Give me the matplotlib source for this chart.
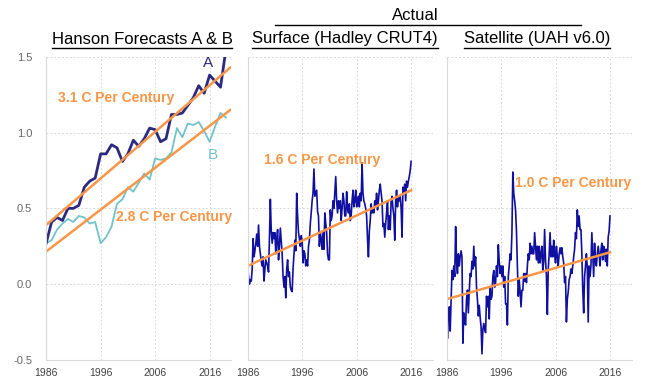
import numpy as np
import matplotlib
matplotlib.use("Agg")
import matplotlib.pyplot as plt
from matplotlib.lines import Line2D

plt.rcParams['font.family'] = ['Liberation Sans', 'DejaVu Sans']

# Hansen forecasts, annual values
hansen_years = np.arange(1986, 2020)
hansen_a = [0.27, 0.41, 0.44, 0.42, 0.50, 0.50, 0.52, 0.64, 0.68, 0.70,
            0.86, 0.86, 0.92, 0.90, 0.81, 0.86, 0.95, 0.91, 0.96, 1.03,
            1.02, 0.94, 0.96, 1.12, 1.12, 1.13, 1.18, 1.23, 1.31, 1.26,
            1.38, 1.34, 1.30, 1.55]
hansen_b = [0.27, 0.29, 0.36, 0.40, 0.43, 0.41, 0.45, 0.44, 0.40, 0.41,
            0.27, 0.31, 0.38, 0.53, 0.56, 0.64, 0.61, 0.67, 0.73, 0.69,
            0.83, 0.82, 0.83, 0.87, 1.03, 0.97, 1.06, 1.05, 1.07, 1.01,
            0.94, 1.04, 1.13, 1.10]

# trend lines: (start year, end year), (start value, end value)
a_trend_years = [1986, 2019.8]
a_trend_vals = [0.39, 1.43]
b_trend_years = [1986, 2019.8]
b_trend_vals = [0.215, 1.15]

# bi-monthly actuals, 1986.0 - 2016.0 (6 per year)
obs_years = 1986 + np.arange(181) / 6
surface = [0.12, 0.05, 0.00, 0.03, 0.02, 0.10,
           0.30, 0.18, 0.22, 0.27, 0.33, 0.25,
           0.39, 0.25, 0.20, 0.15, 0.12, 0.18,
           0.02, 0.10, 0.16, 0.14, 0.12, 0.08,
           0.30, 0.56, 0.35, 0.27, 0.34, 0.30,
           0.34, 0.20, 0.30, 0.36, 0.16, 0.25,
           0.37, 0.28, 0.20, 0.05, -0.02, 0.05,
           -0.09, 0.10, 0.16, 0.05, 0.08, -0.02,
           -0.04, -0.05, 0.10, 0.20, 0.29, 0.22,
           0.60, 0.45, 0.34, 0.30, 0.25, 0.32,
           0.29, 0.14, 0.22, 0.20, 0.12, 0.16,
           0.12, 0.25, 0.29, 0.40, 0.47, 0.55,
           0.60, 0.76, 0.58, 0.60, 0.62, 0.48,
           0.45, 0.25, 0.34, 0.30, 0.23, 0.34,
           0.23, 0.47, 0.40, 0.34, 0.20, 0.16,
           0.16, 0.49, 0.42, 0.45, 0.55, 0.50,
           0.60, 0.71, 0.55, 0.47, 0.55, 0.50,
           0.55, 0.42, 0.50, 0.60, 0.55, 0.45,
           0.45, 0.61, 0.50, 0.47, 0.53, 0.42,
           0.45, 0.55, 0.62, 0.51, 0.55, 0.62,
           0.51, 0.55, 0.58, 0.51, 0.60, 0.55,
           0.80, 0.60, 0.55, 0.53, 0.50, 0.45,
           0.30, 0.18, 0.35, 0.42, 0.53, 0.47,
           0.50, 0.47, 0.55, 0.52, 0.60, 0.49,
           0.55, 0.62, 0.66, 0.60, 0.55, 0.38,
           0.40, 0.31, 0.40, 0.47, 0.55, 0.36,
           0.45, 0.36, 0.55, 0.58, 0.50, 0.45,
           0.29, 0.55, 0.62, 0.51, 0.58, 0.55,
           0.58, 0.50, 0.31, 0.64, 0.60, 0.66,
           0.55, 0.68, 0.64, 0.68, 0.71, 0.75,
           0.81]
satellite = [-0.14, -0.36, -0.20, -0.15, -0.31, -0.10,
             0.09, 0.03, 0.12, 0.05, 0.38, 0.15,
             0.07, 0.20, 0.12, 0.18, 0.22, 0.18,
             -0.39, -0.19, -0.25, -0.27, -0.10, -0.04,
             -0.19, -0.05, 0.07, 0.05, 0.15, 0.10,
             0.25, 0.12, 0.18, -0.02, -0.10, -0.21,
             -0.14, -0.22, -0.28, -0.46, -0.30, -0.26,
             -0.30, -0.32, -0.08, -0.15, -0.08, -0.23,
             -0.02, -0.10, -0.08, 0.05, 0.09, -0.02,
             0.01, 0.12, 0.05, 0.26, 0.15, 0.07,
             0.12, 0.05, 0.12, -0.02, 0.05, -0.13,
             -0.13, -0.27, 0.05, 0.12, 0.20, 0.16,
             0.34, 0.74, 0.60, 0.55, 0.49, 0.35,
             0.12, -0.08, 0.03, -0.05, -0.15, -0.04,
             -0.04, 0.07, 0.02, 0.07, 0.01, 0.12,
             0.20, 0.16, 0.27, 0.20, 0.25, 0.20,
             0.20, 0.34, 0.25, 0.16, 0.25, 0.14,
             0.25, 0.14, 0.20, 0.25, 0.09, 0.15,
             0.36, 0.16, 0.05, -0.20, 0.10, 0.20,
             0.34, 0.18, 0.25, 0.18, 0.29, 0.20,
             0.14, 0.25, 0.18, 0.12, 0.20, 0.24,
             0.20, 0.24, 0.18, 0.14, 0.01, 0.05,
             -0.25, -0.10, -0.05, 0.03, 0.05, 0.10,
             0.07, 0.12, 0.18, 0.23, 0.34, 0.30,
             0.49, 0.38, 0.45, 0.36, 0.36, 0.20,
             -0.04, -0.19, 0.05, 0.12, 0.20, 0.10,
             -0.25, 0.12, 0.05, 0.12, 0.34, 0.20,
             0.05, 0.27, 0.15, 0.12, 0.20, 0.25,
             0.20, 0.12, 0.22, 0.27, 0.16, 0.25,
             0.23, 0.15, 0.23, 0.12, 0.31, 0.35,
             0.45]
surface_trend_years = [1986, 2016]
surface_trend_vals = [0.12, 0.62]
satellite_trend_years = [1986, 2016]
satellite_trend_vals = [-0.10, 0.21]

x_ticks = [1986, 1996, 2006, 2016]
y_ticks = [-0.5, 0.0, 0.5, 1.0, 1.5]

ORANGE = '#F79646'
NAVY = '#2B2A80'
TEAL = '#72C2CA'
BLUE = '#1010A0'

fig = plt.figure(figsize=(6.5, 3.82), dpi=100)
lefts = [0.071, 0.381, 0.687]
axes = [fig.add_axes([l, 0.058, 0.285, 0.793]) for l in lefts]

for i, ax in enumerate(axes):
    ax.set_xlim(1986, 2020)
    ax.set_ylim(-0.5, 1.5)
    ax.set_xticks(x_ticks)
    ax.set_yticks(y_ticks)
    ax.grid(True, color='#DADADA', linestyle=(0, (2, 2)), linewidth=0.7)
    ax.set_axisbelow(True)
    for s in ['top', 'right']:
        ax.spines[s].set_visible(False)
    for s in ['left', 'bottom']:
        ax.spines[s].set_color('#D9D9D9')
    ax.tick_params(length=0, pad=6)
    for lab in ax.get_xticklabels():
        lab.set_fontsize(7.5)
        lab.set_color('#404040')
    if i == 0:
        ax.set_yticklabels([f'{v:.1f}' for v in y_ticks], fontsize=8, color='#666666')
        ax.tick_params(axis='y', pad=10)
    else:
        ax.set_yticklabels([])

ax1, ax2, ax3 = axes

ax1.plot(hansen_years, hansen_b, color=TEAL, lw=1.3)
ax1.plot(hansen_years, hansen_a, color=NAVY, lw=2.0)
ax1.plot(a_trend_years, a_trend_vals, color=ORANGE, lw=1.8)
ax1.plot(b_trend_years, b_trend_vals, color=ORANGE, lw=1.8)
ax1.text(1988.2, 1.23, '3.1 C Per Century', color=ORANGE, fontsize=10,
         fontweight='bold', va='center')
ax1.text(1998.8, 0.44, '2.8 C Per Century', color=ORANGE, fontsize=10,
         fontweight='bold', va='center')
ax1.text(2015.7, 1.46, 'A', color=NAVY, fontsize=11, ha='center', va='center')
ax1.text(2016.6, 0.85, 'B', color=TEAL, fontsize=11, ha='center', va='center')

ax2.plot(obs_years, surface, color=BLUE, lw=1.2)
ax2.plot(surface_trend_years, surface_trend_vals, color=ORANGE, lw=1.8)
ax2.text(1989.0, 0.82, '1.6 C Per Century', color=ORANGE, fontsize=10,
         fontweight='bold', va='center')

ax3.plot(obs_years, satellite, color=BLUE, lw=1.2)
ax3.plot(satellite_trend_years, satellite_trend_vals, color=ORANGE, lw=1.8)
ax3.text(1998.6, 0.67, '1.0 C Per Century', color=ORANGE, fontsize=10,
         fontweight='bold', va='center')

# underlined panel titles
titles = ['Hanson Forecasts A & B', 'Surface (Hadley CRUT4)', 'Satellite (UAH v6.0)']
title_x = [142 / 650, 345 / 650, 537 / 650]
title_objs = [fig.text(x, 1 - 39 / 382, t, ha='center', va='center', fontsize=12)
              for x, t in zip(title_x, titles)]
fig.text(415 / 650, 1 - 16 / 382, 'Actual', ha='center', va='center', fontsize=12)
fig.add_artist(Line2D([275 / 650, 581 / 650], [1 - 25 / 382] * 2,
                      color='black', lw=1.0, transform=fig.transFigure))

fig.canvas.draw()
renderer = fig.canvas.get_renderer()
for t in title_objs:
    bb = t.get_window_extent(renderer).transformed(fig.transFigure.inverted())
    fig.add_artist(Line2D([bb.x0, bb.x1], [bb.y0 - 0.004] * 2, color='black',
                          lw=1.0, transform=fig.transFigure))

fig.savefig('out.png', dpi=100)
